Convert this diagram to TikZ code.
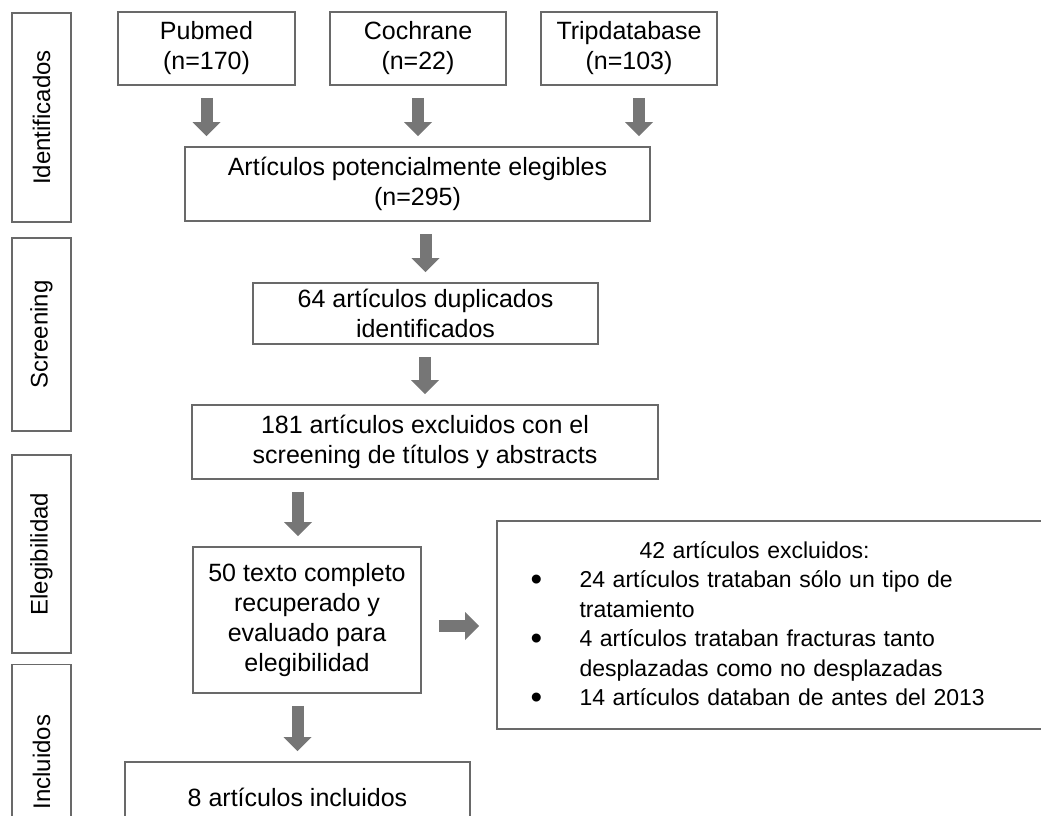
\documentclass[tikz,border=0pt]{standalone}
\usepackage{fontspec}
\setmainfont{Liberation Sans}
\usetikzlibrary{arrows.meta}
\definecolor{boxgray}{RGB}{105,105,105}
\definecolor{arrowgray}{RGB}{118,118,118}
\newcommand{\bigbullet}{\makebox[51pt][l]{\hspace{2pt}\raisebox{-3pt}{\fontsize{33}{30}\selectfont\textbullet}}}
\begin{document}
\begin{tikzpicture}[x=1pt,y=-1pt,
  box/.style={draw=boxgray,line width=1.6pt,font=\fontsize{25}{30}\selectfont,align=center,inner sep=0pt},
  side/.style={box,font=\fontsize{24}{30}\selectfont,rotate=90,minimum height=59pt},
  garrow/.style={draw,color=arrowgray,line width=12pt,shorten <=12pt,shorten >=10pt,
    -{Triangle[width=28pt,length=14pt,line width=0pt]}}]

  \useasboundingbox (0,0) rectangle (1041,816);
  \clip (0,0) rectangle (1041,816);

  \node[side,minimum width=209pt] (ident) at (41.5,117.5) {Identificados};
  \node[side,minimum width=193pt] (scr) at (41.5,334.5) {Screening};
  \node[side,minimum width=198pt] (eleg) at (41.5,554) {Elegibilidad};
  \node[side,minimum width=195pt] (inc) at (41.5,762) {Incluidos};

  \node[box,minimum width=177pt,minimum height=73pt] (pub) at (206.5,48.5) {Pubmed\\(n=170)};
  \node[box,minimum width=176pt,minimum height=73pt] (coch) at (418,48.5) {Cochrane\\(n=22)};
  \node[box,minimum width=176pt,minimum height=73pt] (trip) at (629,48.5) {Tripdatabase\\(n=103)};
  \node[box,minimum width=465pt,minimum height=74pt] (pot) at (417.5,184) {Artículos potencialmente elegibles\\(n=295)};
  \node[box,minimum width=345pt,minimum height=61pt] (dup) at (425.5,313.5) {64 artículos duplicados\\identificados};
  \node[box,minimum width=466pt,minimum height=74pt] (scrx) at (425,442) {181 artículos excluidos con el\\screening de títulos y abstracts};
  \node[box,minimum width=228pt,minimum height=146pt] (full) at (307,620) {50 texto completo\\recuperado y\\evaluado para\\elegibilidad};
  \node[box,minimum width=345pt,minimum height=70pt] (incl) at (297.5,797) {8 artículos incluidos};
  \node[box,font=\fontsize{23}{29.5}\selectfont,minimum width=583pt,minimum height=208pt,
        text width=520pt,align=left] (excl) at (788.5,625)
   {\hspace*{111pt}42 artículos excluidos:\\
    \bigbullet 24 artículos trataban sólo un tipo de\\
    \hspace*{51pt}tratamiento\\
    \bigbullet 4 artículos trataban fracturas tanto\\
    \hspace*{51pt}desplazadas como no desplazadas\\
    \bigbullet 14 artículos databan de antes del 2013};

  \path[every edge/.style={garrow}]
   (pub.south) edge (pub.south |- pot.north)
   (coch.south) edge (coch.south |- pot.north)
   ([xshift=10pt]trip.south) edge ([xshift=10pt]trip.south |- pot.north)
   (pot.south -| dup.north) edge (dup.north)
   (dup.south -| scrx.north) edge (scrx.north)
   ([xshift=-9pt]full.north |- scrx.south) edge ([xshift=-9pt]full.north)
   (full.south -| incl.north) edge (incl.north)
   ([yshift=-6pt]full.east) edge[shorten <=17pt,shorten >=17pt] ([yshift=-6pt]full.east -| excl.west);
\end{tikzpicture}
\end{document}
